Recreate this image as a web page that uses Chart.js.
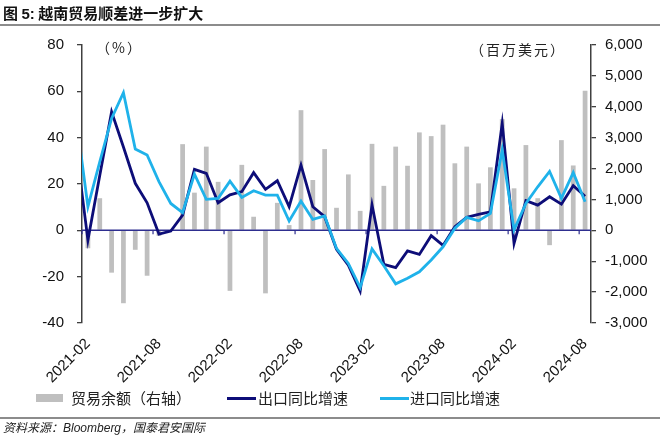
<!DOCTYPE html>
<html><head><meta charset="utf-8">
<script src="https://cdn.jsdelivr.net/npm/chart.js@4"></script>
<style>
html,body{margin:0;padding:0;background:#fff;width:660px;height:437px;overflow:hidden;}
#wrap{position:relative;width:660px;height:437px;}
canvas{position:absolute;left:0;top:0;}
.t{position:absolute;white-space:nowrap;color:#111;}
#title{left:3px;top:3px;font:bold 15px "Noto Sans CJK SC",sans-serif;line-height:20px;}
#title b{font-family:"Liberation Sans",Arial,sans-serif;}
.rule{position:absolute;left:0;width:660px;height:1.5px;background:#8c8c8c;}
.unit{font:14px "Noto Sans CJK SC",sans-serif;line-height:18px;letter-spacing:2px;color:#222;}
.leg{font:15px "Noto Sans CJK SC",sans-serif;line-height:20px;color:#222;top:388px;}
#src{left:3px;top:419px;font:italic 12px "Noto Sans CJK SC","Liberation Sans",sans-serif;line-height:16px;color:#222;}
#src i{font-family:"Liberation Sans",Arial,sans-serif;}
</style></head>
<body><div id="wrap">
<canvas id="c" width="660" height="437"></canvas>
<div class="t" id="title">图 <b>5:</b> 越南贸易顺差进一步扩大</div>
<div class="rule" style="top:24px"></div>
<div class="t unit" style="left:96px;top:38px">（%）</div>
<div class="t unit" style="left:470px;top:40px">（百万美元）</div>
<div style="position:absolute;left:36px;top:394px;width:27px;height:8px;background:#bfbfbf"></div>
<div class="t leg" style="left:71px">贸易余额（右轴）</div>
<div style="position:absolute;left:227px;top:396.5px;width:29px;height:3px;background:#0d0d78"></div>
<div class="t leg" style="left:258px">出口同比增速</div>
<div style="position:absolute;left:380px;top:396.5px;width:29px;height:3px;background:#1fb2ea"></div>
<div class="t leg" style="left:410px">进口同比增速</div>
<div class="rule" style="top:417px"></div>
<div class="t" id="src">资料来源：<i>Bloomberg</i>，国泰君安国际</div>
</div>
<script>
const months = ['2021-01','2021-02','2021-03','2021-04','2021-05','2021-06','2021-07','2021-08','2021-09','2021-10','2021-11','2021-12',
'2022-01','2022-02','2022-03','2022-04','2022-05','2022-06','2022-07','2022-08','2022-09','2022-10','2022-11','2022-12',
'2023-01','2023-02','2023-03','2023-04','2023-05','2023-06','2023-07','2023-08','2023-09','2023-10','2023-11','2023-12',
'2024-01','2024-02','2024-03','2024-04','2024-05','2024-06','2024-07','2024-08'];
// trade balance, million USD (right axis)
const balance = [null,-580,1040,-1370,-2360,-630,-1470,-180,20,2790,1220,2710,
1570,-1960,2120,440,-2040,890,170,3890,1630,2630,730,1810,
630,2800,1440,2710,2090,3170,3050,3420,2170,2710,1520,2040,
3600,1360,2760,1040,-480,2920,2100,4520];
// export YoY %
const exportYoY = [36,-4.2,23.7,51.2,36,20.3,11.9,-1.6,-0.3,6.6,26.3,24.6,
11.9,15.3,16.7,24.9,17.7,21.4,10.2,28.2,10.2,5.9,-8.2,-15,
-26.2,11,-14.7,-16.1,-8.9,-10.4,-2.3,-6.5,1.6,5.6,6.9,8.0,
46.2,-5.6,12.8,10.9,14.5,11.3,19.3,14.7];
// import YoY %
const importYoY = [49,10.2,29.6,48.3,59.4,35.1,32.5,21,11.6,7.6,24.3,13.4,
13.8,21.2,14.2,17.1,15.2,15.2,4.0,12.6,4.7,6.2,-7.8,-14.3,
-24.7,-8,-15.3,-23.1,-20.7,-17.9,-12.8,-7.1,0.9,5.6,4.1,7.3,
34.7,0.2,11.6,18.8,25.4,13.8,24.9,12.3];
const leftTicks = {min:-40, max:80, step:20};
const rightTicks = {min:-3000, max:6000, step:1000};

const navy = '#2e2e8f';
const zeroLine = {
  id:'zeroLine',
  afterDatasetDraw(chart, args){
    if (args.index !== 0) return;
    const {ctx, chartArea:a, scales} = chart;
    const x = scales.x, y = scales.y;
    const y0 = y.getPixelForValue(0);
    ctx.save();
    ctx.strokeStyle = navy; ctx.lineWidth = 1.5;
    ctx.beginPath(); ctx.moveTo(a.left, y0); ctx.lineTo(a.right, y0); ctx.stroke();
    ctx.lineWidth = 1.2;
    months.forEach((m, i) => {
      if (i < 1) return;
      if (m.endsWith('-02') || m.endsWith('-08')) {
        const p = (x.getPixelForValue(i) + x.getPixelForValue(i - 1)) / 2;
        ctx.beginPath(); ctx.moveTo(p, y0); ctx.lineTo(p, y0 + 4); ctx.stroke();
      }
    });
    ctx.restore();
  }
};

Chart.defaults.font.family = "'Liberation Sans', Arial, sans-serif";
Chart.defaults.color = '#111';
new Chart(document.getElementById('c'), {
  type: 'bar',
  data: {
    labels: months,
    datasets: [
      {type:'bar', label:'贸易余额（右轴）', data:balance, yAxisID:'y1', backgroundColor:'#bfbfbf', barPercentage:0.4, categoryPercentage:1, order:3},
      {type:'line', label:'出口同比增速', data:exportYoY, yAxisID:'y', borderColor:'#0d0d78', borderWidth:2.8, pointRadius:0, tension:0, order:2},
      {type:'line', label:'进口同比增速', data:importYoY, yAxisID:'y', borderColor:'#1fb2ea', borderWidth:2.8, pointRadius:0, tension:0, order:1}
    ]
  },
  options: {
    responsive:false, animation:false,
    layout:{padding:{top:45, left:0, right:0, bottom:0}},
    plugins:{legend:{display:false}, tooltip:{enabled:false}},
    scales:{
      x:{type:'category', min:'2021-02', offset:true,
         grid:{display:false, drawTicks:false}, border:{display:false},
         ticks:{autoSkip:false, minRotation:45, maxRotation:45, padding:12, font:{size:15}, color:'#111',
           callback(v){ const l = this.getLabelForValue(v); return (l.endsWith('-02')||l.endsWith('-08')) ? l : ''; }},
         afterFit(s){ s.height = 114; }},
      y:{position:'left', min:leftTicks.min, max:leftTicks.max,
         ticks:{stepSize:leftTicks.step, padding:13, font:{size:15}, color:'#111'},
         grid:{drawOnChartArea:false, tickLength:5, color:'#404040', lineWidth:1.3},
         border:{color:'#404040', width:1.5},
         afterFit(s){ s.width = 82; }},
      y1:{position:'right', min:rightTicks.min, max:rightTicks.max,
         ticks:{stepSize:rightTicks.step, padding:9, font:{size:15}, color:'#111',
           callback:v => v.toLocaleString('en-US')},
         grid:{drawOnChartArea:false, tickLength:5, color:'#404040', lineWidth:1.3},
         border:{color:'#404040', width:1.5},
         afterFit(s){ s.width = 69; }}
    }
  },
  plugins:[zeroLine]
});
</script>
</body></html>
